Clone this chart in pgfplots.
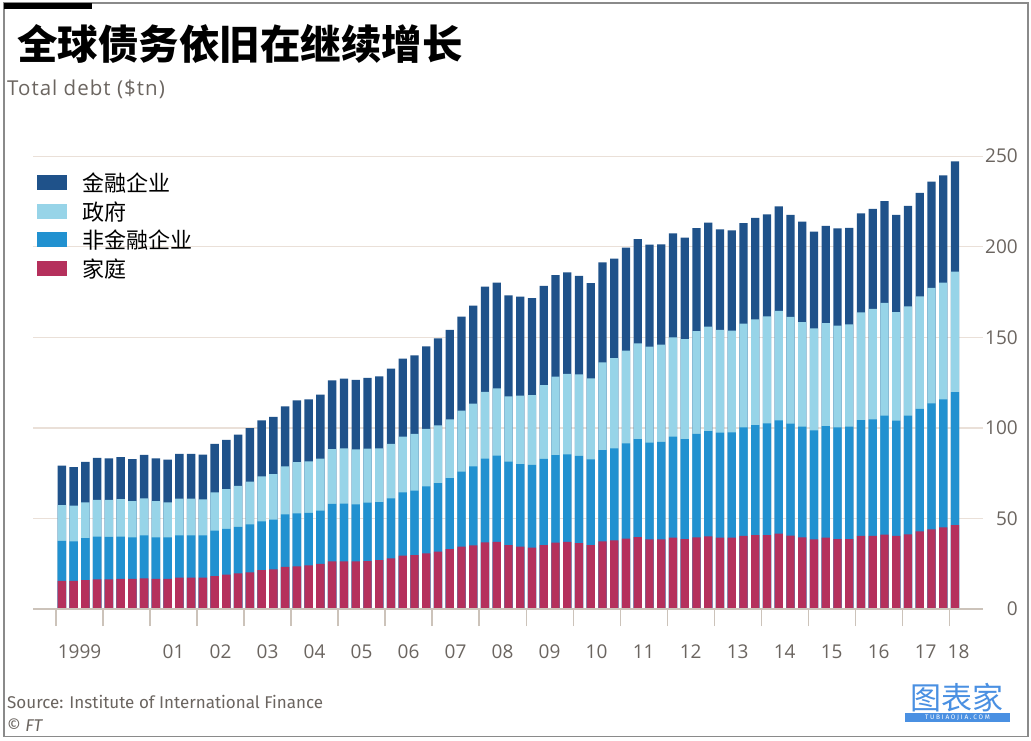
\documentclass[border=0pt]{standalone}
\usepackage{pgfplots}
\pgfplotsset{compat=1.18}
\usepackage{pgfplotstable}
\usepackage{fontspec}
\setmainfont{Fira Sans}
\newfontfamily\osans{Open Sans}
\newfontfamily\osanssp[LetterSpace=5]{Open Sans}
\newfontfamily\cjk{Noto Sans CJK SC}
\definecolor{finc}{HTML}{1F528A}
\definecolor{govc}{HTML}{97D4E8}
\definecolor{nfcc}{HTML}{2191D0}
\definecolor{hhc}{HTML}{B5305C}
\definecolor{gridc}{HTML}{EAE0D8}
\definecolor{axisc}{HTML}{CCC3BA}
\definecolor{labc}{HTML}{6B6560}
\definecolor{framec}{HTML}{8A8A8A}
\definecolor{wmc}{HTML}{4A90E2}

\pgfplotstableread{
x hh nfc gov fin
1999.125 15.6 37.7 57.5 79.3
1999.375 15.6 37.5 57.1 78.4
1999.625 16.1 39.2 59.0 81.3
1999.875 16.5 40.1 60.4 83.5
2000.125 16.5 39.9 60.4 83.3
2000.375 16.7 40.1 60.8 83.9
2000.625 16.7 39.7 59.7 82.8
2000.875 17.0 40.8 61.2 85.2
2001.125 16.7 39.6 59.7 83.3
2001.375 16.7 39.6 59.0 82.6
2001.625 17.4 40.8 61.0 85.7
2001.875 17.4 40.8 61.0 85.7
2002.125 17.4 40.8 60.6 85.3
2002.375 18.3 43.3 64.5 91.2
2002.625 19.1 44.3 66.2 93.4
2002.875 19.8 45.5 68.0 96.3
2003.125 20.3 46.8 70.4 100.0
2003.375 21.5 48.5 73.3 104.2
2003.625 22.0 49.4 74.6 106.2
2003.875 23.3 52.4 78.8 112.0
2004.125 23.7 52.9 81.2 115.2
2004.375 24.2 53.1 81.6 115.8
2004.625 25.0 54.4 83.1 118.4
2004.875 26.4 58.1 88.4 126.3
2005.125 26.4 58.2 88.8 127.2
2005.375 26.4 57.9 88.2 126.5
2005.625 26.6 58.8 88.6 127.6
2005.875 27.1 59.1 88.8 128.5
2006.125 28.1 61.2 91.3 132.7
2006.375 29.6 64.5 95.2 138.3
2006.625 29.9 65.4 96.7 140.1
2006.875 30.8 67.8 99.5 145.1
2007.125 31.8 69.6 101.5 149.5
2007.375 33.1 72.4 104.8 154.1
2007.625 34.5 75.9 109.6 161.4
2007.875 35.2 78.8 113.4 167.5
2008.125 36.9 83.1 120.0 178.0
2008.375 37.1 84.7 121.9 180.2
2008.625 35.4 81.4 117.5 173.2
2008.875 34.5 80.0 117.9 172.5
2009.125 34.0 79.6 118.2 171.7
2009.375 35.4 82.9 123.7 178.4
2009.625 36.7 85.1 128.3 184.3
2009.875 37.1 85.5 129.9 185.9
2010.125 36.4 84.6 129.6 183.9
2010.375 35.4 82.7 127.4 179.9
2010.625 37.5 87.8 136.2 191.4
2010.875 38.0 88.8 138.6 193.5
2011.125 38.9 91.5 142.7 199.5
2011.375 39.8 93.9 146.7 204.3
2011.625 38.6 91.9 144.9 201.2
2011.875 38.6 92.4 146.0 201.4
2012.125 39.5 95.2 150.0 207.4
2012.375 38.7 93.9 149.1 205.0
2012.625 39.7 96.7 153.5 210.3
2012.875 40.2 98.3 155.9 213.3
2013.125 39.5 97.4 154.1 209.6
2013.375 39.5 97.6 153.7 209.1
2013.625 40.4 100.4 157.6 213.0
2013.875 40.9 101.6 160.0 215.9
2014.125 40.9 102.6 161.6 217.9
2014.375 41.7 104.2 164.7 222.3
2014.625 40.6 102.4 161.3 217.6
2014.875 39.7 100.7 158.4 213.9
2015.125 38.6 98.7 155.0 208.4
2015.375 39.5 101.1 157.9 211.6
2015.625 38.7 100.4 156.5 210.2
2015.875 38.7 100.7 157.2 210.5
2016.125 40.4 104.4 163.8 218.4
2016.375 40.5 104.8 165.8 220.9
2016.625 41.1 106.8 169.0 225.2
2016.875 40.5 104.1 164.0 217.6
2017.125 41.3 106.8 167.1 222.6
2017.375 42.9 110.5 172.7 229.7
2017.625 44.1 113.6 177.4 235.9
2017.875 45.2 115.8 180.2 239.4
2018.125 46.4 119.8 186.3 247.2
}\debt

\begin{document}
\begin{tikzpicture}
\useasboundingbox (0,0) rectangle (1031pt,740pt);
\fill[white] (0,0) rectangle (1031pt,740pt);
\draw[framec, line width=1.5pt] (4pt,3.5pt) rectangle (1028pt,737pt);
\fill[black] (4pt,731pt) rectangle (92pt,737pt);

\node[anchor=base west, inner sep=0pt, font=\cjk\bfseries\fontsize{40.5}{40.5}\selectfont] at (17pt,680pt) {全球债务依旧在继续增长};
\node[anchor=base west, inner sep=0pt, text=labc, font=\osanssp\fontsize{20.5}{20.5}\selectfont] at (7pt,644pt) {Total debt (\$tn)};
\node[anchor=base west, inner sep=0pt, text=labc, font=\fontsize{17}{17}\selectfont] at (7pt,32pt) {Source: Institute of International Finance};
\node[anchor=base west, inner sep=0pt, text=labc, font=\fontsize{17}{17}\selectfont] at (7pt,9pt) {\textcopyright\ \textit{FT}};
\node[anchor=center, inner sep=0pt, text=wmc, font=\cjk\fontsize{31}{31}\selectfont] at (957pt,42pt) {图表家};
\fill[wmc] (905pt,18pt) rectangle (1010pt,27pt);
\node[anchor=center, inner sep=0pt, text=white, font=\fontsize{6.5}{6.5}\selectfont] at (957.5pt,22.5pt) {T U B I A O J I A . C O M};

\begin{axis}[
  at={(33pt,130.8pt)}, anchor=south west,
  scale only axis, width=950pt, height=453pt,
  xmin=1998.51, xmax=2018.72, ymin=0, ymax=250,
  axis line style={draw=none},
  ybar,
  /pgf/number format/assume math mode=true,
  ytick={0,50,100,150,200,250},
  yticklabel pos=right,
  ytick style={draw=none},
  ymajorgrids, grid style={gridc, line width=1.2pt},
  y tick label style={anchor=east, xshift=18pt, inner sep=0pt, text=labc, font=\osans\fontsize{19}{19}\selectfont},
  xtick={1999,2000,...,2018}, xticklabels={},
  xtick pos=lower,
  tick align=outside,
  x tick style={axisc, line width=1.2pt},
  major tick length=17pt,
  extra x ticks={1999.5,2001.5,2002.5,2003.5,2004.5,2005.5,2006.5,2007.5,2008.5,2009.5,2010.5,2011.5,2012.5,2013.5,2014.5,2015.5,2016.5,2017.5,2018.2},
  extra x tick labels={1999,01,02,03,04,05,06,07,08,09,10,11,12,13,14,15,16,17,18},
  extra x tick style={major tick length=0pt, grid=none, tick style={draw=none}},
  x tick label style={anchor=base, yshift=-49pt, inner sep=0pt, text=labc, font=\osans\fontsize{19}{19}\selectfont},
  legend image code/.code={\fill[#1] (0pt,-6.1pt) rectangle (30pt,8.9pt);},
  legend cell align=left,
  legend style={at={(rel axis cs:0,1)}, anchor=north west, xshift=4pt, yshift=-16.7pt,
    draw=none, fill=none, inner sep=0pt, outer sep=0pt,
    font=\cjk\fontsize{22}{22}\selectfont, row sep=6.55pt, column sep=15pt,
    nodes={inner sep=0pt, text height=19pt, text depth=3pt}},
  mybar/.style={fill=#1, draw=none, bar width=8.4pt, bar shift=0pt},
]
\addplot[mybar=finc] table[x=x, y=fin] {\debt};
\addlegendentry{金融企业}
\addplot[mybar=govc] table[x=x, y=gov] {\debt};
\addlegendentry{政府}
\addplot[mybar=nfcc] table[x=x, y=nfc] {\debt};
\addlegendentry{非金融企业}
\addplot[mybar=hhc] table[x=x, y=hh] {\debt};
\addlegendentry{家庭}
\draw[axisc, line width=1.5pt] (rel axis cs:0,0) -- (rel axis cs:1,0);
\end{axis}
\end{tikzpicture}
\end{document}
